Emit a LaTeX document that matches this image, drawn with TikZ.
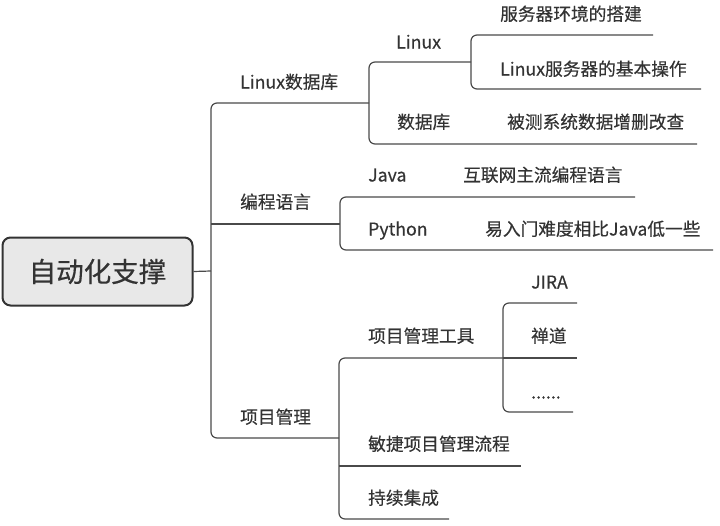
\documentclass[tikz,border=0pt]{standalone}
\usepackage{fontspec}
\setmainfont[FakeBold=0.4]{Noto Sans CJK SC}
\definecolor{txt}{HTML}{333333}
\definecolor{lc}{HTML}{4A4A4A}
\definecolor{rootfill}{HTML}{E8E8E8}
\begin{document}
\begin{tikzpicture}[x=1pt,y=-1pt,
  lbl/.style={anchor=west, inner sep=0pt, text height=0.8em, text depth=0.2em, yshift=-2.5pt,
              font=\fontsize{17.7}{20}\selectfont, text=txt},
  ln/.style={draw=lc, line width=1.2pt, rounded corners=6pt},
  rootbox/.style={draw=txt, fill=rootfill, line width=2pt, rounded corners=8pt,
              minimum width=190pt, minimum height=68pt, inner sep=0pt,
              font=\fontsize{27.5}{30}\selectfont, text=txt}]
\useasboundingbox (0,0) rectangle (720,525);

% root
\node[rootbox] (root) at (97.5,271.5) {自动化支撑};

% coordinates: level 1
\coordinate (t1a) at (211,103);
\coordinate (t1m) at (211,271);
\coordinate (t1b) at (211,438);
\coordinate (t1c) at (211,224);
\coordinate (e1a) at (369,103);
\coordinate (e1b) at (339,438);
\coordinate (e1c) at (340,224);

% level 2 (Linux数据库)
\coordinate (t2a) at (369,62);
\coordinate (t2b) at (369,144);
\coordinate (e2a) at (471,62);
\coordinate (e2b) at (697,144);
% level 3 (Linux)
\coordinate (t3a) at (471,35);
\coordinate (t3b) at (471,89);
\coordinate (e3a) at (653,35);
\coordinate (e3b) at (701,89);

% level 2 (编程语言)
\coordinate (t4a) at (340,197);
\coordinate (t4b) at (340,250);
\coordinate (e4a) at (635,197);
\coordinate (e4b) at (713,250);

% level 2 (项目管理)
\coordinate (t5a) at (339,358);
\coordinate (t5m) at (339,466);
\coordinate (t5b) at (339,519);
\coordinate (e5a) at (503,358);
\coordinate (e5m) at (521,466);
\coordinate (e5b) at (449,519);
% level 3 (项目管理工具)
\coordinate (t6a) at (503,303);
\coordinate (t6b) at (503,412);
\coordinate (e6a) at (577,303);
\coordinate (e6m) at (577,358);
\coordinate (e6b) at (573,412);

% connectors
\draw[ln] (root.east) -- (t1m);
\draw[ln] (e1a) -- (t1a) -- (t1b) -- (e1b);
\draw[ln] (t1c) -- (e1c);

\draw[ln] (e2a) -- (t2a) -- (t2b) -- (e2b);
\draw[ln] (e3a) -- (t3a) -- (t3b) -- (e3b);

\draw[ln] (e4a) -- (t4a) -- (t4b) -- (e4b);

\draw[ln] (e5a) -- (t5a) -- (t5b) -- (e5b);
\draw[ln] (t5m) -- (e5m);
\draw[ln] (e6a) -- (t6a) -- (t6b) -- (e6b);
\draw[ln] (e5a) -- (e6m);

% labels
\node[lbl] (l1) at (240,83) {Linux数据库};
\node[lbl] (l2) at (240,203) {编程语言};
\node[lbl] (l3) at (240,418) {项目管理};

\node[lbl] (l11) at (396,43) {Linux};
\node[lbl] (l12) at (397,123) {数据库};
\node[lbl] (l121) at (507,123) {被测系统数据增删改查};
\node[lbl] (l111) at (500,15) {服务器环境的搭建};
\node[lbl] (l112) at (500,70) {Linux服务器的基本操作};

\node[lbl] (l21) at (368,176) {Java};
\node[lbl] (l211) at (463,176) {互联网主流编程语言};
\node[lbl] (l22) at (368,230) {Python};
\node[lbl] (l221) at (485,230) {易入门难度相比Java低一些};

\node[lbl] (l31) at (368,337) {项目管理工具};
\node[lbl] (l311) at (531,283) {JIRA};
\node[lbl] (l312) at (531,337) {禅道};
\node[lbl] (l313) at (531,393) {......};
\node[lbl] (l32) at (368,445) {敏捷项目管理流程};
\node[lbl] (l33) at (368,499) {持续集成};
\end{tikzpicture}
\end{document}
